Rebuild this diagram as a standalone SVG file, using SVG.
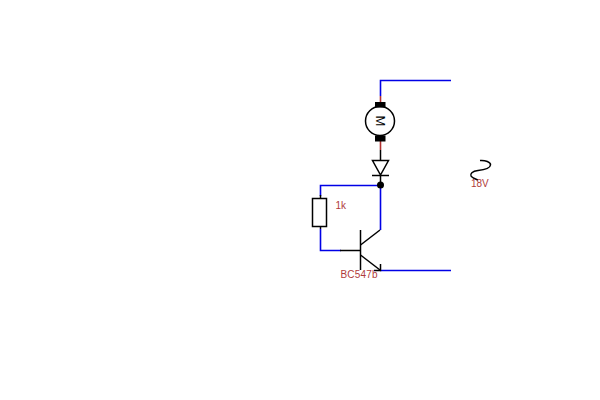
<svg xmlns="http://www.w3.org/2000/svg" width="600" height="400" viewBox="0 0 600 400">
<style>
.w{fill:none;stroke:#0000e6;stroke-width:1.600}
.r{fill:none;stroke:#b03030;stroke-width:1.600}
.k{fill:none;stroke:#000;stroke-width:1.500}
.t{font-family:"Liberation Sans",Arial,sans-serif;font-size:10px;fill:#b03a3a}
</style>
<rect width="600" height="400" fill="#fff"/>
<g id="connectors">
<path class="w" d="M451 80.500H380.500V96"/>
<path class="w" d="M380.500 185.500H320.500V196"/>
<path class="w" d="M320.500 229V250.500H341"/>
<path class="w" d="M380.500 185V230"/>
<path class="w" d="M380 270.500H451"/>
<path class="r" d="M380.500 96V102"/>
<path class="r" d="M380.500 141V150"/>
<path class="k" d="M380.500 150V160"/>
<path class="k" d="M380.500 175V185"/>
<path class="k" d="M320.500 195V199"/>
<path class="k" d="M320.500 226V229"/>
</g>
<g id="motor">
<circle cx="380" cy="121" r="14.500" fill="#fff" stroke="#000" stroke-width="1.500"/>
<rect x="375" y="102" width="10.500" height="5.500" fill="#000"/>
<rect x="375" y="135.500" width="10.500" height="6" fill="#000"/>
<text x="380" y="121" transform="rotate(90 380 121)" text-anchor="middle" dominant-baseline="central" style="font-family:'Liberation Sans',Arial,sans-serif;font-size:13px;fill:#000">M</text>
</g>
<g id="diode">
<path class="k" d="M372.500 160.500H388.500L380.500 175Z"/>
<path class="k" d="M372 175.500H389"/>
<circle cx="380.500" cy="185" r="3.500" fill="#000"/>
</g>
<g id="resistor">
<rect x="312.500" y="198.500" width="14" height="28" fill="#fff" stroke="#000" stroke-width="1.500"/>
<text class="t" x="335.500" y="209">1k</text>
</g>
<g id="transistor">
<path class="k" d="M340 250.500H360.500"/>
<path class="k" d="M360.500 230V270"/>
<path class="k" d="M360.500 245L380 230"/>
<path class="k" d="M360.500 255L380 270"/>
<path class="k" d="M380.500 264V270.500H374"/>
<text class="t" x="340.500" y="277.500" textLength="37">BC547b</text>
</g>
<g id="source">
<path class="k" d="M480 160.500C485 160 491 162 490.500 165C490 169 483 170 478 170.500C472 171 470 174 471 176C472 178 476 179 478 180"/>
<text class="t" x="471" y="187">18V</text>
</g>
</svg>
